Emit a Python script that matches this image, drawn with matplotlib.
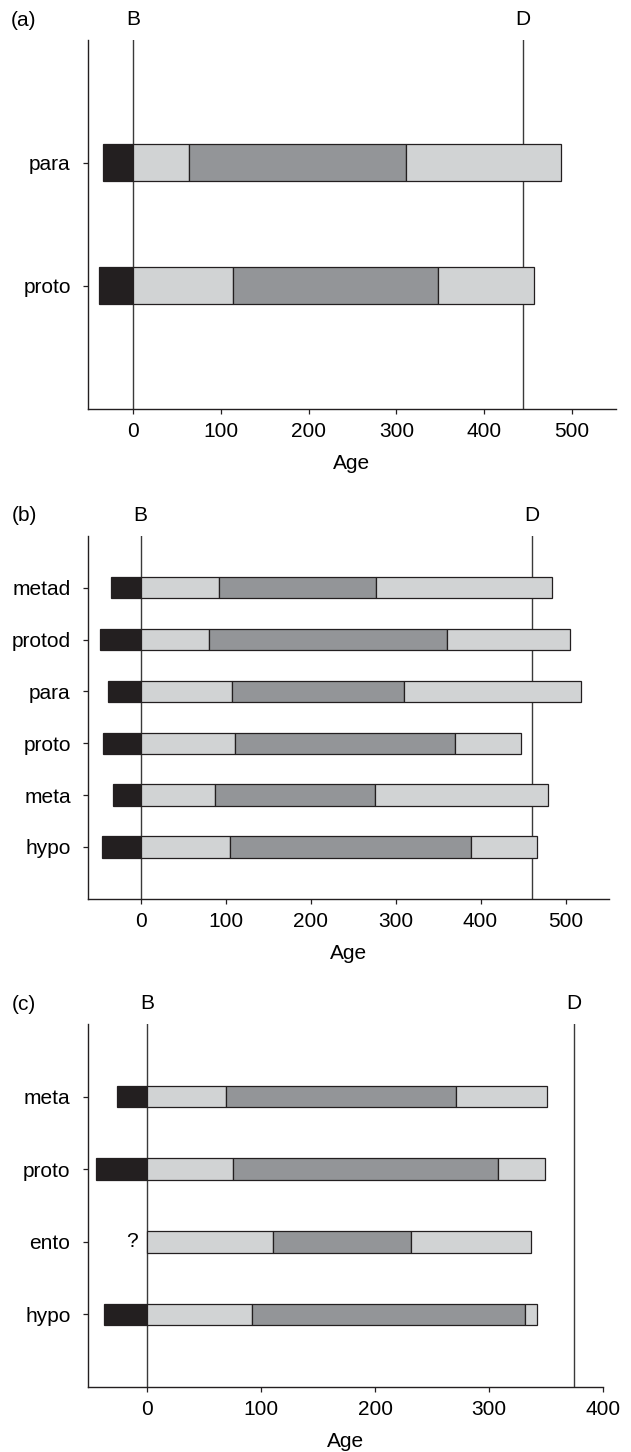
import numpy as np
import matplotlib.pyplot as plt

plt.rcParams['font.family'] = ['Liberation Sans', 'DejaVu Sans']

# panel (a), bottom to top
a_cats = ['proto', 'para']
a_pre = [-39, -35]
a_light1 = [113, 63.5]
a_dark = [347, 310.5]
a_end = [456.5, 488]
a_D = 444

# panel (b), bottom to top
b_cats = ['hypo', 'meta', 'proto', 'para', 'protod', 'metad']
b_pre = [-45.5, -32, -44.5, -38.5, -48, -35]
b_light1 = [105, 87, 111.5, 108, 80.5, 92.5]
b_dark = [389, 276, 370, 310.5, 361, 277]
b_end = [466, 479.5, 448, 518.5, 505.5, 484]
b_D = 460

# panel (c), bottom to top (ento has no pre-B segment)
c_cats = ['hypo', 'ento', 'proto', 'meta']
c_pre = [-38, None, -45, -26.5]
c_light1 = [92, 110.5, 75.5, 69]
c_dark = [331.5, 231.5, 308, 271]
c_end = [341.5, 337, 348.5, 351]
c_D = 374.5

black = '#231f20'
light = '#d1d3d4'
dark = '#939598'
edge = '#231f20'
fs = 15

W, H = 631, 1452
fig = plt.figure(figsize=(W / 100, H / 100), dpi=100)


def panel(box, cats, pre, l1, dk, end, D, xlim, xticks, barh_, tag):
    left, top, right, bottom = box
    ax = fig.add_axes([left / W, 1 - bottom / H, (right - left) / W, (bottom - top) / H])
    y = np.arange(1, len(cats) + 1)
    for i in range(len(cats)):
        if pre[i] is not None:
            ax.barh(y[i], -pre[i], left=pre[i], height=barh_, color=black,
                    edgecolor=edge, linewidth=0.9)
        else:
            ax.text(-13, y[i], '?', ha='center', va='center', fontsize=fs)
        ax.barh(y[i], l1[i], left=0, height=barh_, color=light, edgecolor=edge, linewidth=0.9)
        ax.barh(y[i], dk[i] - l1[i], left=l1[i], height=barh_, color=dark,
                edgecolor=edge, linewidth=0.9)
        ax.barh(y[i], end[i] - dk[i], left=dk[i], height=barh_, color=light,
                edgecolor=edge, linewidth=0.9)
    ax.axvline(0, color='#3a3a3a', lw=1, zorder=0.5)
    ax.axvline(D, color='#3a3a3a', lw=1, zorder=0.5)
    ax.set_xlim(*xlim)
    ax.set_ylim(0, len(cats) + 1)
    ax.set_xticks(xticks)
    ax.set_yticks(y)
    ax.set_yticklabels(cats)
    ax.spines['top'].set_visible(False)
    ax.spines['right'].set_visible(False)
    for s in ['left', 'bottom']:
        ax.spines[s].set_color(black)
        ax.spines[s].set_linewidth(1)
    ax.tick_params(axis='both', length=3.6, width=0.9, color=black, labelsize=fs)
    ax.tick_params(axis='x', pad=6)
    ax.tick_params(axis='y', pad=9)
    ax.set_xlabel('Age', fontsize=fs, labelpad=9)
    for xv, lab in [(0, 'B'), (D, 'D')]:
        ax.annotate(lab, xy=(xv, 1), xycoords=('data', 'axes fraction'),
                    xytext=(0, 14.5), textcoords='offset points',
                    ha='center', va='center', fontsize=fs)
    fig.text(24 / W, 1 - (top - 20) / H, tag, ha='center', va='center', fontsize=fs)
    return ax


panel((88.3, 40, 615.7, 408.7), a_cats, a_pre, a_light1, a_dark, a_end, a_D,
      (-51.5, 550), [0, 100, 200, 300, 400, 500], 0.3, '(a)')
panel((88.3, 536, 609.3, 898.7), b_cats, b_pre, b_light1, b_dark, b_end, b_D,
      (-61.5, 551.5), [0, 100, 200, 300, 400, 500], 0.41, '(b)')
panel((88, 1024, 603.3, 1387), c_cats, c_pre, c_light1, c_dark, c_end, c_D,
      (-52, 400), [0, 100, 200, 300, 400], 0.3, '(c)')

fig.savefig('out.png', dpi=100)
